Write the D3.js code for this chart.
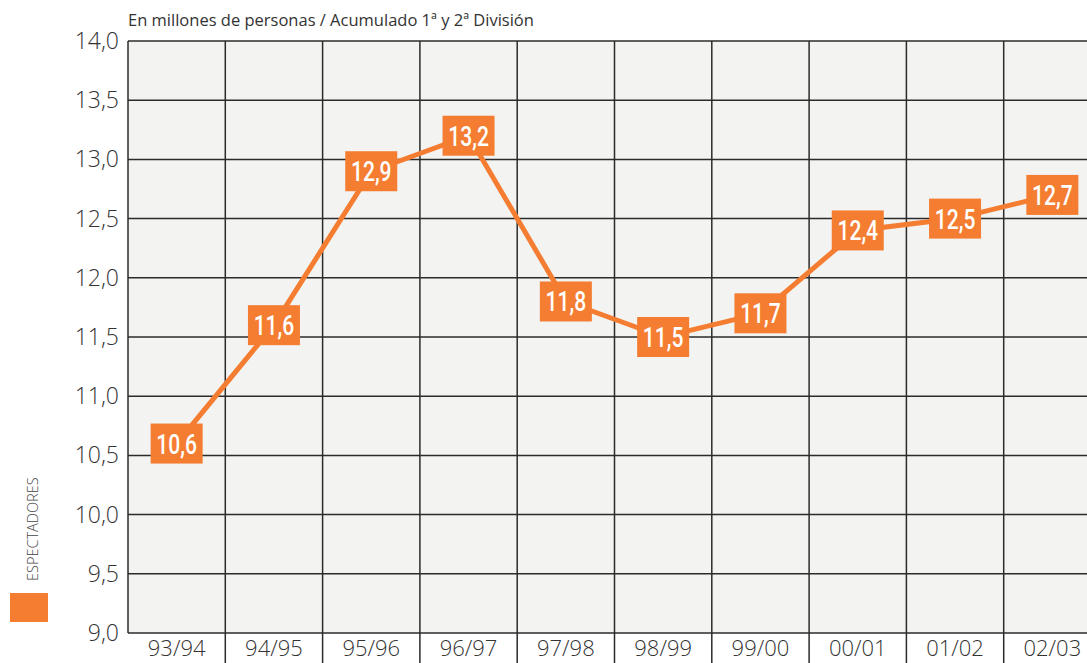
<!DOCTYPE html>
<html>
<head>
<meta charset="utf-8">
<script src="https://cdn.jsdelivr.net/npm/d3@7"></script>
<style>
  body { margin: 0; background: #fff; }
  svg { display: block; }
</style>
</head>
<body>
<div id="chart"></div>
<script>
(function() {
  var width = 1087,
     height = 663;

  // seasons and spectators (millions)
  var seasons = ["93/94", "94/95", "95/96", "96/97", "97/98", "98/99", "99/00", "00/01", "01/02", "02/03"];
  var espectadores = [10.6, 11.6, 12.9, 13.2, 11.8, 11.5, 11.7, 12.4, 12.5, 12.7];
  var yTicks = [9.0, 9.5, 10.0, 10.5, 11.0, 11.5, 12.0, 12.5, 13.0, 13.5, 14.0];

  var orange = "#f47d31";
  var left = 128, top = 41, bottom = 633, colW = 97.3;

  var svg = d3.select("#chart")
  .append("svg")
  .attr("width", width)
  .attr("height", height);

  var x = d3.scaleBand().domain(seasons).range([left, left + colW * seasons.length]);
  var y = d3.scaleLinear().domain([9, 14]).range([bottom, top]);

  var fmt = function(v) { return d3.format(".1f")(v).replace(".", ","); };

  // plot background
  svg.append("rect")
  .attr("x", left)
  .attr("y", top)
  .attr("width", colW * seasons.length)
  .attr("height", bottom - top)
  .attr("fill", "#f3f3f2");

  // horizontal grid
  svg.selectAll(".hgrid")
  .data(yTicks)
  .enter()
  .append("line")
  .attr("class", "hgrid")
  .attr("x1", left)
  .attr("x2", width)
  .attr("y1", function(d) { return y(d); })
  .attr("y2", function(d) { return y(d); })
  .attr("stroke", "#2b2b2b")
  .attr("stroke-width", 1.5);

  // vertical grid, separators go down through the label row
  svg.selectAll(".vgrid")
  .data(seasons)
  .enter()
  .append("line")
  .attr("class", "vgrid")
  .attr("x1", function(d) { return x(d); })
  .attr("x2", function(d) { return x(d); })
  .attr("y1", top)
  .attr("y2", function(d, i) { return i === 0 ? bottom : height; })
  .attr("stroke", "#2b2b2b")
  .attr("stroke-width", 1.5);

  // y tick labels
  svg.selectAll(".ytick")
  .data(yTicks)
  .enter()
  .append("text")
  .attr("class", "ytick")
  .attr("x", left - 9)
  .attr("y", function(d) { return y(d) + 8; })
  .attr("text-anchor", "end")
  .attr("font-family", "'Open Sans', sans-serif")
  .attr("font-weight", 300)
  .attr("font-size", 23)
  .attr("fill", "#333")
  .text(fmt);

  // x labels
  svg.selectAll(".xtick")
  .data(seasons)
  .enter()
  .append("text")
  .attr("class", "xtick")
  .attr("x", function(d) { return x(d) + x.bandwidth() / 2; })
  .attr("y", 656)
  .attr("text-anchor", "middle")
  .attr("font-family", "'Open Sans', sans-serif")
  .attr("font-weight", 300)
  .attr("font-size", 22)
  .attr("fill", "#333")
  .text(function(d) { return d; });

  // subtitle
  svg.append("text")
  .attr("x", left)
  .attr("y", 26)
  .attr("font-family", "'Open Sans', sans-serif")
  .attr("font-size", 16.5)
  .attr("fill", "#333")
  .text("En millones de personas / Acumulado 1ª y 2ª División");

  // legend
  svg.append("text")
  .attr("transform", "translate(38,581) rotate(-90)")
  .attr("font-family", "'Open Sans', sans-serif")
  .attr("font-weight", 300)
  .attr("font-size", 14.5)
  .attr("fill", "#444")
  .text("ESPECTADORES");

  svg.append("rect")
  .attr("x", 10)
  .attr("y", 593)
  .attr("width", 38)
  .attr("height", 29)
  .attr("fill", orange);

  var points = seasons.map(function(s, i) {
    return { season: s, value: espectadores[i] };
  });

  var line = d3.line()
  .x(function(d) { return x(d.season) + x.bandwidth() / 2; })
  .y(function(d) { return y(d.value); });

  svg.append("path")
  .datum(points)
  .attr("d", line)
  .attr("fill", "none")
  .attr("stroke", orange)
  .attr("stroke-width", 5);

  var labels = svg.selectAll(".lbl")
  .data(points)
  .enter()
  .append("g")
  .attr("class", "lbl")
  .attr("transform", function(d) {
    return "translate(" + (x(d.season) + x.bandwidth() / 2) + "," + y(d.value) + ")";
  });

  labels.append("rect")
  .attr("x", -26)
  .attr("y", -20)
  .attr("width", 52)
  .attr("height", 40)
  .attr("fill", orange);

  // condensed look: squeeze Roboto horizontally
  labels.append("text")
  .attr("transform", "translate(0,10) scale(0.78,1)")
  .attr("text-anchor", "middle")
  .attr("font-family", "Roboto, sans-serif")
  .attr("font-weight", 500)
  .attr("font-size", 27)
  .attr("fill", "#fff")
  .text(function(d) { return fmt(d.value); });
})();
</script>
</body>
</html>
